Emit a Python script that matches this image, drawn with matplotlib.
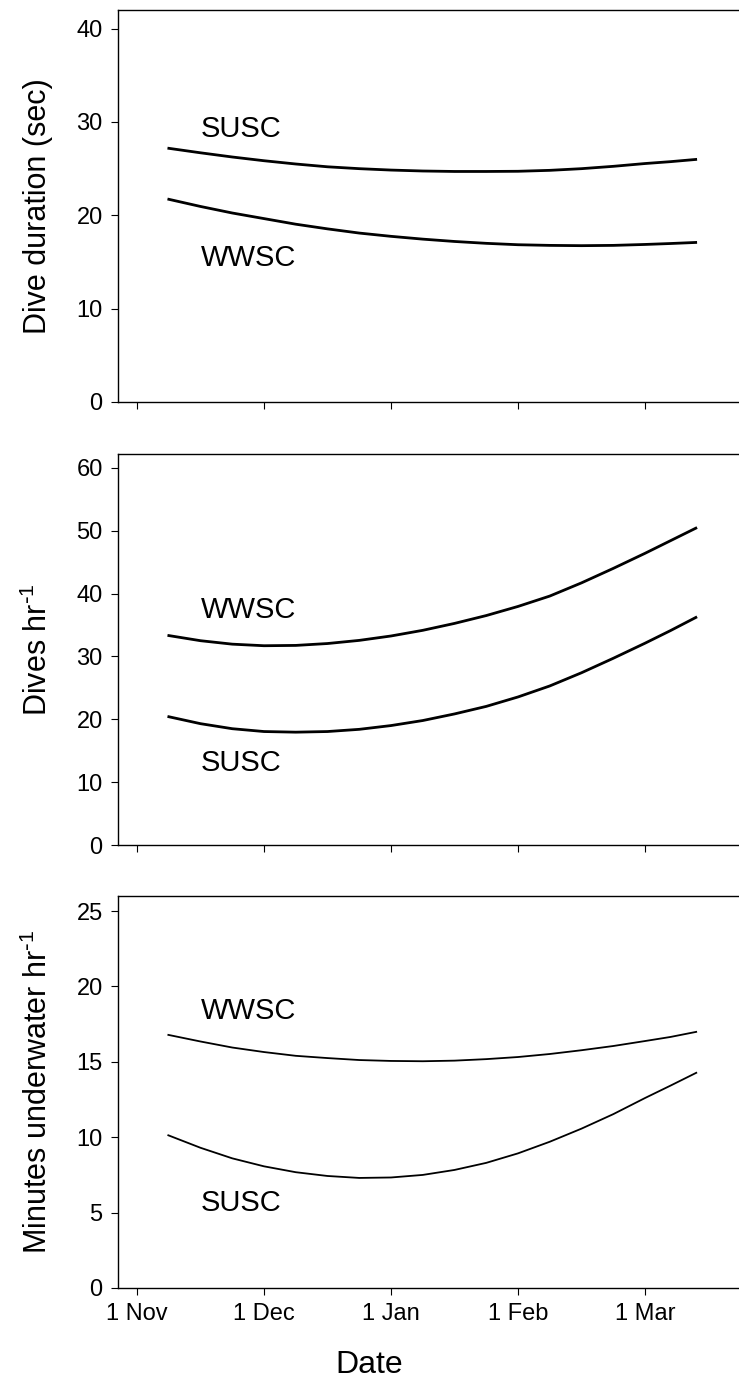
import matplotlib
matplotlib.use("Agg")
import matplotlib.pyplot as plt

plt.rcParams['font.family'] = ['Liberation Sans', 'DejaVu Sans']
plt.rcParams['mathtext.default'] = 'regular'

# x positions: months after 1 Nov (tick spacing is one month)
month_ticks = [0, 1, 2, 3, 4]
month_labels = ["1 Nov", "1 Dec", "1 Jan", "1 Feb", "1 Mar"]

x = [0.24, 0.5, 0.75, 1.0, 1.25, 1.5, 1.75, 2.0, 2.25, 2.5, 2.75, 3.0,
     3.25, 3.5, 3.75, 4.0, 4.2, 4.41]

# Panel 1: dive duration (sec)
dur_susc = [27.2, 26.7, 26.25, 25.85, 25.5, 25.2, 25.0, 24.85, 24.75, 24.7,
            24.7, 24.72, 24.82, 25.0, 25.25, 25.55, 25.75, 26.0]
dur_wwsc = [21.75, 20.95, 20.25, 19.65, 19.05, 18.55, 18.1, 17.75, 17.45, 17.2,
            17.0, 16.85, 16.78, 16.75, 16.78, 16.88, 16.98, 17.1]

# Panel 2: dives per hour
dph_wwsc = [33.35, 32.5, 31.95, 31.7, 31.75, 32.05, 32.55, 33.25, 34.15, 35.25,
            36.5, 37.95, 39.6, 41.7, 44.0, 46.4, 48.4, 50.5]
dph_susc = [20.45, 19.3, 18.5, 18.05, 17.95, 18.05, 18.4, 19.0, 19.8, 20.85,
            22.05, 23.55, 25.3, 27.4, 29.7, 32.1, 34.1, 36.3]

# Panel 3: minutes underwater per hour
min_wwsc = [16.8, 16.35, 15.95, 15.65, 15.4, 15.25, 15.12, 15.06, 15.04, 15.08,
            15.18, 15.32, 15.52, 15.77, 16.05, 16.38, 16.65, 17.0]
min_susc = [10.15, 9.3, 8.6, 8.07, 7.68, 7.43, 7.3, 7.33, 7.5, 7.83,
            8.3, 8.93, 9.7, 10.57, 11.53, 12.6, 13.42, 14.3]

fig = plt.figure(figsize=(7.39, 13.9), dpi=100)

W, H = 739.0, 1390.0
left_px, right_px = 118.0, 739.0
panels_px = [(10, 402), (454, 845), (896, 1288)]

ylims = [(0, 42), (0, 62.2), (0, 26)]
yticks = [[0, 10, 20, 30, 40], [0, 10, 20, 30, 40, 50, 60], [0, 5, 10, 15, 20, 25]]
ylabels = ["Dive duration (sec)", "Dives hr$^{\\text{-}1}$",
           "Minutes underwater hr$^{\\text{-}1}$"]
series = [(dur_susc, dur_wwsc), (dph_wwsc, dph_susc), (min_wwsc, min_susc)]
lws = [2.0, 2.0, 1.3]
labels = [[("SUSC", 29.3), ("WWSC", 15.45)],
          [("WWSC", 37.4), ("SUSC", 13.0)],
          [("WWSC", 18.36), ("SUSC", 5.64)]]

xmin = (left_px - 137.0) / 127.0
xmax = (right_px - 137.0) / 127.0

for i, (top, bot) in enumerate(panels_px):
    ax = fig.add_axes([left_px / W, 1 - bot / H, (right_px - left_px) / W, (bot - top) / H])
    for s in series[i]:
        ax.plot(x, s, color='black', lw=lws[i], solid_capstyle='butt',
                solid_joinstyle='round')
    ax.set_xlim(xmin, xmax)
    ax.set_ylim(*ylims[i])
    ax.set_yticks(yticks[i])
    ax.set_xticks(month_ticks)
    if i == 2:
        ax.set_xticklabels(month_labels)
    else:
        ax.set_xticklabels([])
    ax.spines['right'].set_visible(False)
    for sp in ['left', 'bottom', 'top']:
        ax.spines[sp].set_linewidth(1.0)
    ax.tick_params(axis='both', direction='out', length=5, width=0.8,
                   labelsize=17, colors='black')
    ax.tick_params(axis='y', pad=6)
    ax.tick_params(axis='x', pad=6)
    for txt, yv in labels[i]:
        ax.text(0.5, yv, txt, fontsize=21, ha='left', va='center')
    yc = 1 - (top + bot) / 2 / H
    fig.text(38 / W, yc, ylabels[i], rotation=90, fontsize=22,
             ha='center', va='center')

fig.text(0.5, 1 - 1365 / H, "Date", fontsize=23, ha='center', va='center')

fig.savefig("out.png", dpi=100)
